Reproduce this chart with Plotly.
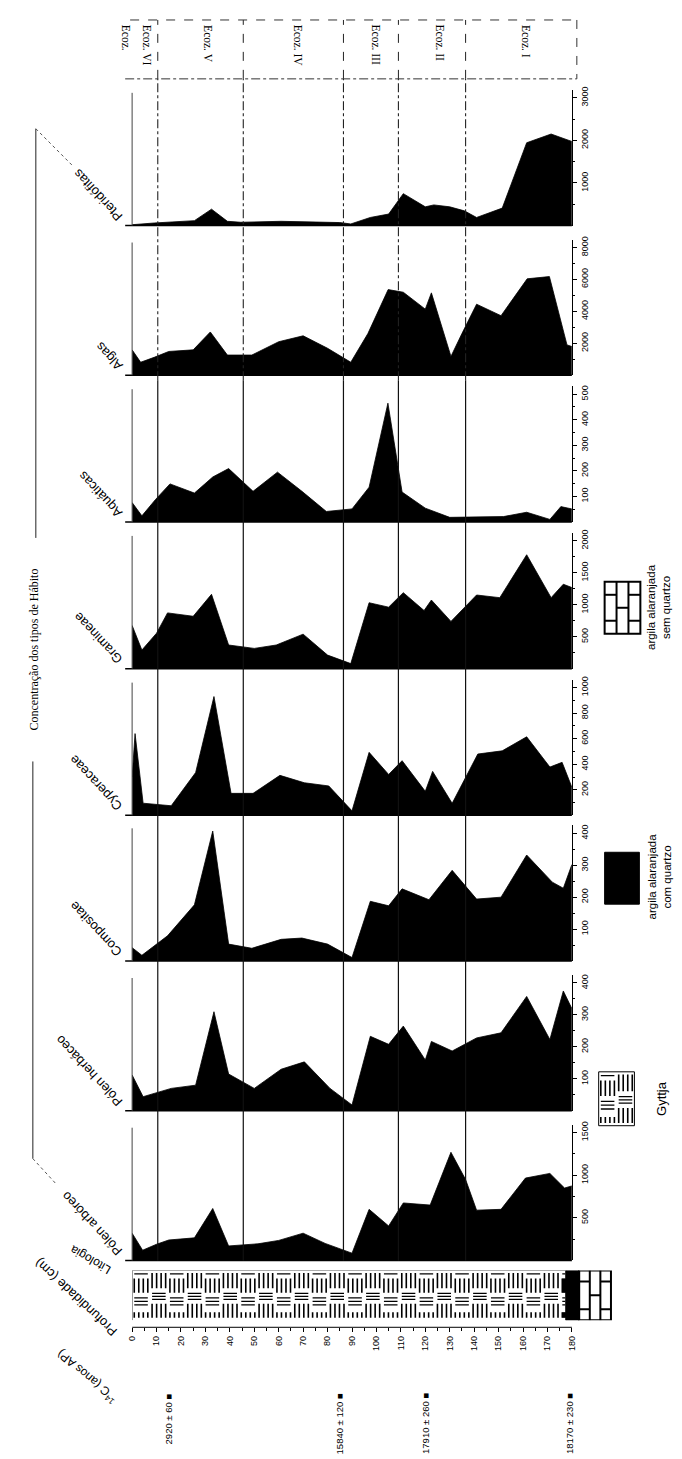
import plotly.graph_objects as go

W, H = 682, 1459


def px(x):
    return x / W


def py(y):
    return 1 - y / H


# ---------------- data ----------------
taxa = ["Pteridófitas", "Algas", "Aquáticas", "Gramineae", "Cyperaceae",
        "Compositae", "Pólen herbáceo", "Pólen arbóreo"]

pter_depth = [0, 9, 25.5, 32.5, 39, 44.5, 61, 85, 89.5, 97.5, 105, 111, 120, 123.5,
              130, 136, 141, 151.5, 161.5, 171.5, 180]
pter_vals = [20, 60, 115, 385, 100, 77, 100, 70, 38, 190, 270, 750, 440, 485,
             440, 345, 190, 410, 1945, 2150, 1975]

alg_depth = [0, 3.5, 9, 15, 25, 32, 39, 49, 60, 70, 80, 89.5, 96.5, 104.8, 111, 120,
             122.5, 130.5, 135, 141, 151, 161.7, 170.8, 178, 180]
alg_vals = [1590, 816, 1120, 1490, 1590, 2710, 1265, 1265, 2100, 2470, 1690, 816,
            2610, 5365, 5200, 4140, 5160, 1180, 2610, 4450, 3730, 6040, 6180, 1900, 1800]

aqu_depth = [0, 4, 9.5, 15.5, 25.5, 33, 39.5, 49.5, 59.5, 69.5, 79.5, 90, 97, 104.7,
             110.5, 120, 130, 152, 161.5, 171, 175.5, 180]
aqu_vals = [76, 24, 87, 149, 113, 176, 209, 120, 195, 120, 41, 51, 136, 465,
            117, 54, 18, 21, 38, 10, 60, 51]

gra_depth = [0, 4, 10, 14.5, 25, 32.5, 39.5, 50, 59, 70, 80, 89.5, 97, 105, 111,
             119.5, 122.5, 130.5, 141, 150.5, 161.5, 171.5, 176.5, 180]
gra_vals = [677, 291, 555, 873, 820, 1164, 370, 317, 370, 540, 212, 79, 1032, 963,
            1190, 910, 1074, 740, 1153, 1111, 1783, 1111, 1322, 1270]

cyp_depth = [0, 1.2, 4.5, 16, 26, 33.5, 40.5, 49.5, 60.5, 70.5, 80.5, 90, 97, 105,
             110.5, 120, 123, 131, 141.5, 151.5, 161.5, 171, 176, 180]
cyp_vals = [300, 640, 95, 75, 335, 930, 172, 172, 313, 255, 230, 35, 493, 320,
            428, 188, 344, 94, 480, 505, 615, 378, 415, 220]

com_depth = [0, 4, 14.5, 25.5, 33, 39.5, 49, 61, 69.5, 80, 90, 97.5, 105, 110.5,
             121.5, 131, 141, 151, 161.5, 172, 176.5, 180]
com_vals = [42, 18, 79, 176, 407, 53, 40, 68, 72, 53, 11, 187, 173, 226,
            192, 284, 194, 200, 332, 247, 228, 302]

her_depth = [0, 4.5, 16, 26, 33.5, 39.5, 50, 61, 70.5, 81, 90, 97.5, 105, 111, 120,
             122.5, 131, 141, 151, 161.5, 171, 176.5, 180]
her_vals = [112, 44, 70, 80, 310, 115, 70, 130, 153, 70, 18, 233, 208, 265, 159,
            217, 187, 228, 244, 358, 223, 375, 320]

arb_depth = [0, 4.3, 10, 15, 25.5, 33, 39.5, 45.5, 51.5, 60, 70, 79, 90, 97, 105,
             111, 122, 130.5, 136.5, 141, 151, 161, 171, 177, 180]
arb_vals = [320, 120, 190, 240, 265, 610, 170, 180, 195, 235, 320, 200, 85, 600, 405,
            675, 650, 1270, 950, 590, 600, 967, 1022, 850, 875]

ticks_pter = [1000, 2000, 3000]
ticks_alg = [2000, 4000, 6000, 8000]
ticks_aqu = [100, 200, 300, 400, 500]
ticks_gra = [500, 1000, 1500, 2000]
ticks_cyp = [200, 400, 600, 800, 1000]
ticks_com = [100, 200, 300, 400]
ticks_her = [100, 200, 300, 400]
ticks_arb = [500, 1000, 1500]

depth_ticks = list(range(0, 181, 10))

zone_bounds = [10.5, 45.5, 86.5, 109, 136.5]
zone_names = ["Ecoz. VI", "Ecoz. V", "Ecoz. IV", "Ecoz. III", "Ecoz. II", "Ecoz. I"]
zone_label_depth = [6.0, 31, 68, 100, 126, 161]

date_depth = [15, 85, 120, 179]
date_text = ["2920 ± 60", "15840 ± 120", "17910 ± 260", "18170 ± 230"]

lith_top = [0, 177.5, 183]
lith_base = [177.5, 183, 196]
lith_type = ["gyttja", "argila com quartzo", "argila sem quartzo"]

# ---------------- geometry ----------------
X0, X180 = 120, 563
CM = (X180 - X0) / 180.0
LITH_MAX = 196.5
baselines = [215, 365, 512, 659, 806, 952, 1102, 1252]
PANEL_H = 136
TOP_TICK_PX = 128

panels = [
    (taxa[0], pter_depth, pter_vals, ticks_pter),
    (taxa[1], alg_depth, alg_vals, ticks_alg),
    (taxa[2], aqu_depth, aqu_vals, ticks_aqu),
    (taxa[3], gra_depth, gra_vals, ticks_gra),
    (taxa[4], cyp_depth, cyp_vals, ticks_cyp),
    (taxa[5], com_depth, com_vals, ticks_com),
    (taxa[6], her_depth, her_vals, ticks_her),
    (taxa[7], arb_depth, arb_vals, ticks_arb),
]

fig = go.Figure()
layout = dict(
    width=W, height=H, margin=dict(l=0, r=0, t=0, b=0),
    paper_bgcolor="white", plot_bgcolor="white", showlegend=False,
    xaxis=dict(domain=[px(X0), px(X180)], range=[0, 180], visible=False,
               fixedrange=True),
)
shapes = []
annotations = []
BLK = "black"

for i, (name, d, v, ticks) in enumerate(panels):
    n = i + 1
    ykey = "yaxis" if n == 1 else f"yaxis{n}"
    yref = "y" if n == 1 else f"y{n}"
    b = baselines[i]
    top = ticks[-1]
    step = ticks[1] - ticks[0]
    rng_top = top * PANEL_H / TOP_TICK_PX
    minor_vals = []
    t = step / 2
    while t < rng_top:
        minor_vals.append(t)
        t += step / 2
    layout[ykey] = dict(
        domain=[py(b), py(b - PANEL_H)], range=[0, rng_top],
        anchor="free", position=px(X180), side="right",
        showline=True, linecolor=BLK, linewidth=1.2,
        ticks="outside", ticklen=4, tickwidth=1, tickcolor=BLK,
        tickmode="array", tickvals=ticks, ticktext=[str(tk) for tk in ticks],
        tickangle=-90, tickfont=dict(size=9, family="Liberation Sans", color=BLK),
        showgrid=False, zeroline=False, fixedrange=True,
        minor=dict(tickmode="array", tickvals=minor_vals, ticks="outside",
                   ticklen=2, tickcolor=BLK),
    )
    fig.add_trace(go.Scatter(
        x=d, y=v, xaxis="x", yaxis=yref, mode="lines", fill="tozeroy",
        line=dict(color=BLK, width=0.8), fillcolor=BLK, hoverinfo="skip",
        name=name))
    # baseline and left border
    shapes.append(dict(type="line", xref="paper", yref="paper",
                       x0=px(113), x1=px(X180), y0=py(b), y1=py(b),
                       line=dict(color=BLK, width=1.5)))
    shapes.append(dict(type="line", xref="paper", yref="paper",
                       x0=px(X0), x1=px(X0), y0=py(b), y1=py(b - 133),
                       line=dict(color="#444", width=1)))
    annotations.append(dict(
        text=name, xref="paper", yref="paper", x=px(116), y=py(b + 1),
        xanchor="right", yanchor="bottom", showarrow=False, textangle=-133,
        font=dict(size=13, family="Liberation Sans", color=BLK)))

# ---------------- zone lines & header ----------------
for zb in zone_bounds:
    shapes.append(dict(type="line", xref="x", yref="paper", x0=zb, x1=zb,
                       y0=py(68), y1=py(9), line=dict(color="#222", width=1, dash="dash")))
    shapes.append(dict(type="line", xref="x", yref="paper", x0=zb, x1=zb,
                       y0=py(370), y1=py(68), line=dict(color="#222", width=1.1, dash="dashdot")))
    shapes.append(dict(type="line", xref="x", yref="paper", x0=zb, x1=zb,
                       y0=py(baselines[-1]), y1=py(370), line=dict(color="#111", width=1.2)))

shapes.append(dict(type="line", xref="paper", yref="paper", x0=px(118), x1=px(568),
                   y0=py(9), y1=py(9), line=dict(color="#333", width=1, dash="dash")))
shapes.append(dict(type="line", xref="paper", yref="paper", x0=px(113), x1=px(568),
                   y0=py(68), y1=py(68), line=dict(color="#333", width=1, dash="dashdot")))
shapes.append(dict(type="line", xref="paper", yref="paper", x0=px(568), x1=px(568),
                   y0=py(9), y1=py(68), line=dict(color="#333", width=1, dash="dash")))

annotations.append(dict(text="Ecoz.", xref="paper", yref="paper", x=px(114), y=py(12),
                        xanchor="center", yanchor="top", showarrow=False, textangle=90,
                        font=dict(size=11.5, family="Liberation Serif", color=BLK)))
for zn, zd in zip(zone_names, zone_label_depth):
    annotations.append(dict(text=zn, xref="x", yref="paper", x=zd, y=py(12),
                            xanchor="center", yanchor="top", showarrow=False, textangle=90,
                            font=dict(size=11.5, family="Liberation Serif", color=BLK)))

# ---------------- bracket + title ----------------
shapes += [
    dict(type="line", xref="paper", yref="paper", x0=px(23), x1=px(23), y0=py(118), y1=py(528),
         line=dict(color="#222", width=1)),
    dict(type="line", xref="paper", yref="paper", x0=px(23), x1=px(60), y0=py(118), y1=py(155),
         line=dict(color="#555", width=1, dash="dot")),
    dict(type="line", xref="paper", yref="paper", x0=px(20), x1=px(20), y0=py(752), y1=py(1150),
         line=dict(color="#222", width=1)),
    dict(type="line", xref="paper", yref="paper", x0=px(20), x1=px(44), y0=py(1150), y1=py(1176),
         line=dict(color="#555", width=1, dash="dot")),
]
annotations.append(dict(text="Concentração dos tipos de Hábito", xref="paper", yref="paper",
                        x=px(21), y=py(640), xanchor="center", yanchor="middle",
                        showarrow=False, textangle=-90,
                        font=dict(size=12, family="Liberation Serif", color=BLK)))

for txt, xr, yr, ang, sz in [("Litologia", 104, 1271, -150, 12),
                             ("Profundidade (cm)", 111, 1334, -137, 13),
                             ("<sup>14</sup>C (anos AP)", 111, 1401, -140, 12)]:
    annotations.append(dict(text=txt, xref="paper", yref="paper", x=px(xr), y=py(yr),
                            xanchor="right", yanchor="bottom", showarrow=False,
                            textangle=ang,
                            font=dict(size=sz, family="Liberation Sans", color=BLK)))

# ---------------- lithology ----------------
layout["xaxis2"] = dict(
    domain=[px(X0), px(X0 + LITH_MAX * CM)], range=[0, LITH_MAX],
    anchor="free", position=py(1319), side="bottom",
    tickmode="array", tickvals=depth_ticks, ticktext=[str(t) for t in depth_ticks],
    ticks="outside", ticklen=4, tickcolor=BLK, tickangle=-90,
    tickfont=dict(size=9, family="Liberation Sans", color=BLK),
    showline=False, showgrid=False, zeroline=False, fixedrange=True,
    minor=dict(tickmode="array", tickvals=list(range(5, 180, 10)), ticks="outside",
               ticklen=3, tickcolor=BLK))
layout["yaxis9"] = dict(domain=[py(1312), py(1262)], range=[0, 1], visible=False,
                        anchor="x2", fixedrange=True)
layout["xaxis3"] = dict(domain=[px(590), px(626)], range=[0, 14.6], visible=False,
                        anchor="y10", fixedrange=True)
layout["yaxis10"] = dict(domain=[py(1117), py(1063)], range=[0, 1], visible=False,
                         anchor="x3", fixedrange=True)

shapes.append(dict(type="line", xref="x2", yref="paper", x0=0, x1=180,
                   y0=py(1319), y1=py(1319), line=dict(color=BLK, width=1)))


def gyttja(x_start, x_end, cell_w):
    vx, vy, hx, hy = [], [], [], []
    i = 0
    c0 = x_start
    while c0 < x_end - 0.5:
        a = c0 + 0.12 * cell_w
        bnd = min(c0 + 0.88 * cell_w, x_end - 0.2)
        bars = [a + k * (bnd - a) / 3 for k in range(4)]
        if i % 2 == 0:
            hx += [a, bnd, None]; hy += [0.93, 0.93, None]
            for xb in bars:
                vx += [xb, xb, None]; vy += [0.55, 0.84, None]
            for yl in (0.45, 0.38, 0.31):
                hx += [a, bnd, None]; hy += [yl, yl, None]
            for xb in bars:
                vx += [xb, xb, None]; vy += [0.05, 0.16, None]
        else:
            for xb in bars:
                vx += [xb, xb, None]; vy += [0.64, 0.95, None]
            for yl in (0.54, 0.48, 0.42):
                hx += [a, bnd, None]; hy += [yl, yl, None]
            for xb in bars:
                vx += [xb, xb, None]; vy += [0.05, 0.33, None]
        i += 1
        c0 += cell_w
    return vx, vy, hx, hy


for lt, lb, ty in zip(lith_top, lith_base, lith_type):
    if ty == "gyttja":
        vx, vy, hx, hy = gyttja(lt, lb, 7.3)
        fig.add_trace(go.Scatter(x=vx, y=vy, xaxis="x2", yaxis="y9", mode="lines",
                                 line=dict(color=BLK, width=1.6), hoverinfo="skip"))
        fig.add_trace(go.Scatter(x=hx, y=hy, xaxis="x2", yaxis="y9", mode="lines",
                                 line=dict(color=BLK, width=1.3), hoverinfo="skip"))
    elif ty == "argila com quartzo":
        shapes.append(dict(type="rect", xref="x2", yref="y9", x0=lt, x1=lb, y0=0, y1=1,
                           fillcolor=BLK, line=dict(color=BLK, width=1)))
    else:
        shapes.append(dict(type="rect", xref="x2", yref="y9", x0=lt, x1=lb, y0=0, y1=1,
                           line=dict(color=BLK, width=2)))
        cw = (lb - lt) / 3
        for k in range(1, 3):
            shapes.append(dict(type="line", xref="x2", yref="y9", x0=lt + k * cw,
                               x1=lt + k * cw, y0=0, y1=1, line=dict(color=BLK, width=2)))
        for k in range(3):
            joints = [0.5] if k % 2 == 1 else [0.22, 0.78]
            for jy in joints:
                shapes.append(dict(type="line", xref="x2", yref="y9", x0=lt + k * cw,
                                   x1=lt + (k + 1) * cw, y0=jy, y1=jy,
                                   line=dict(color=BLK, width=2)))

shapes.append(dict(type="line", xref="x2", yref="y9", x0=0, x1=0, y0=0, y1=1,
                   line=dict(color="#444", width=1)))
shapes.append(dict(type="line", xref="x2", yref="y9", x0=0, x1=lith_top[1], y0=1, y1=1,
                   line=dict(color="#444", width=1)))

# ---------------- dates ----------------
for dd, dt in zip(date_depth, date_text):
    annotations.append(dict(text=dt + " ■", xref="x2", yref="paper", x=dd, y=py(1383),
                            xanchor="center", yanchor="top", showarrow=False, textangle=-90,
                            font=dict(size=9.5, family="Liberation Sans", color=BLK)))

# ---------------- legend ----------------
vx, vy, hx, hy = gyttja(0, 14.6, 7.3)
fig.add_trace(go.Scatter(x=vx, y=vy, xaxis="x3", yaxis="y10", mode="lines",
                         line=dict(color=BLK, width=1.6), hoverinfo="skip"))
fig.add_trace(go.Scatter(x=hx, y=hy, xaxis="x3", yaxis="y10", mode="lines",
                         line=dict(color=BLK, width=1.3), hoverinfo="skip"))
shapes.append(dict(type="rect", xref="paper", yref="paper", x0=px(590), x1=px(626),
                   y0=py(1117), y1=py(1063), line=dict(color=BLK, width=1)))
annotations.append(dict(text="Gyttja", xref="paper", yref="paper", x=px(654), y=py(1090),
                        xanchor="center", yanchor="middle", showarrow=False, textangle=-90,
                        font=dict(size=13, family="Liberation Sans", color=BLK)))

shapes.append(dict(type="rect", xref="paper", yref="paper", x0=px(596), x1=px(631),
                   y0=py(895), y1=py(843), fillcolor=BLK, line=dict(color=BLK, width=1)))
annotations.append(dict(text="argila alaranjada<br>com quartzo", xref="paper", yref="paper",
                        x=px(651), y=py(867), xanchor="center", yanchor="middle",
                        showarrow=False, textangle=-90,
                        font=dict(size=11.5, family="Liberation Sans", color=BLK)))

bx0, bx1, by0, by1 = 596, 632, 572, 624
shapes.append(dict(type="rect", xref="paper", yref="paper", x0=px(bx0), x1=px(bx1),
                   y0=py(by1), y1=py(by0), line=dict(color=BLK, width=2)))
bcw = (bx1 - bx0) / 3
for k in range(1, 3):
    shapes.append(dict(type="line", xref="paper", yref="paper", x0=px(bx0 + k * bcw),
                       x1=px(bx0 + k * bcw), y0=py(by0), y1=py(by1),
                       line=dict(color=BLK, width=2)))
for k in range(3):
    joints = [0.5] if k % 2 == 1 else [0.25, 0.75]
    for jy in joints:
        yy = by0 + jy * (by1 - by0)
        shapes.append(dict(type="line", xref="paper", yref="paper", x0=px(bx0 + k * bcw),
                           x1=px(bx0 + (k + 1) * bcw), y0=py(yy), y1=py(yy),
                           line=dict(color=BLK, width=2)))
annotations.append(dict(text="argila alaranjada<br>sem quartzo", xref="paper", yref="paper",
                        x=px(651), y=py(597), xanchor="center", yanchor="middle",
                        showarrow=False, textangle=-90,
                        font=dict(size=11.5, family="Liberation Sans", color=BLK)))

layout["shapes"] = shapes
layout["annotations"] = annotations
fig.update_layout(**layout)
fig.write_html("out.html")
